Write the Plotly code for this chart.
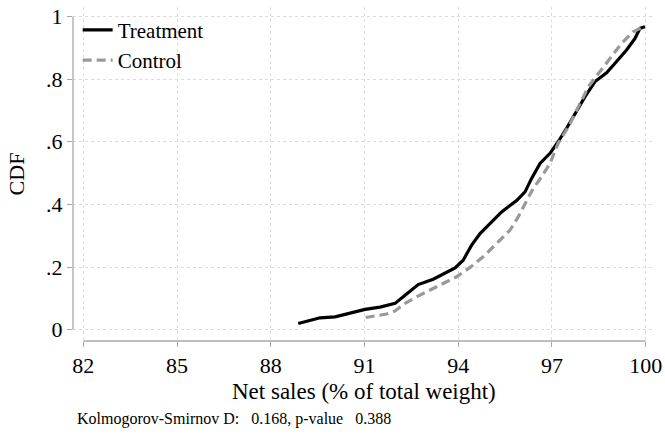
import plotly.graph_objects as go

# CDF of net sales
treat_x = [88.88, 89.58, 90.06, 90.54, 91.02, 91.50, 91.98, 92.30, 92.72, 93.20,
           93.58, 93.90, 94.16, 94.43, 94.70, 95.02, 95.39, 95.87, 96.14, 96.35,
           96.62, 96.94, 97.20, 97.47, 97.74, 98.06, 98.38, 98.75, 99.07, 99.39,
           99.66, 99.82, 99.98]
treat_y = [0.020, 0.038, 0.041, 0.054, 0.065, 0.072, 0.084, 0.110, 0.144, 0.161,
           0.180, 0.197, 0.222, 0.270, 0.307, 0.339, 0.376, 0.412, 0.440, 0.483,
           0.531, 0.563, 0.600, 0.643, 0.691, 0.744, 0.792, 0.820, 0.856, 0.893,
           0.930, 0.962, 0.967]

ctrl_x = [91.04, 91.71, 91.98, 92.30, 92.67, 93.09, 93.52, 93.95, 94.38, 94.80,
          95.23, 95.66, 95.92, 96.19, 96.40, 96.67, 96.94, 97.20, 97.53, 97.85,
          98.17, 98.54, 98.86, 99.23, 99.60, 99.93]
ctrl_y = [0.039, 0.050, 0.060, 0.084, 0.105, 0.126, 0.145, 0.169, 0.199, 0.233,
          0.275, 0.318, 0.360, 0.414, 0.451, 0.488, 0.531, 0.595, 0.648, 0.712,
          0.776, 0.824, 0.866, 0.914, 0.951, 0.967]

x_ticks = [82, 85, 88, 91, 94, 97, 100]
y_ticks = [0, 0.2, 0.4, 0.6, 0.8, 1]
y_tick_labels = ["0", ".2", ".4", ".6", ".8", "1"]

x_title = "Net sales (% of total weight)"
ks_note = "Kolmogorov-Smirnov D:\u00a0\u00a0\u00a00.168, p-value\u00a0\u00a0\u00a00.388"

SERIF = "Liberation Serif"
AXIS_GRAY = "#a8a8a8"
GRID_GRAY = "#dcdcdc"

fig = go.Figure()

fig.add_trace(go.Scatter(
    x=treat_x, y=treat_y, mode="lines", name="Treatment",
    line=dict(color="black", width=3.2),
))
fig.add_trace(go.Scatter(
    x=ctrl_x, y=ctrl_y, mode="lines", name="Control",
    line=dict(color="#999999", width=3.2, dash="9px,5px"),
))

# Stata-style axis lines that only span the tick range
fig.add_shape(type="line", xref="x", yref="paper", x0=82, x1=100, y0=0, y1=0,
              line=dict(color=AXIS_GRAY, width=1.3))
fig.add_shape(type="line", xref="paper", yref="y", x0=0, x1=0, y0=0, y1=1,
              line=dict(color=AXIS_GRAY, width=1.3))

# x title and the KS note placed as annotations for exact positioning
fig.add_annotation(
    text=x_title, xref="paper", yref="paper", x=0.5, y=-0.150,
    xanchor="center", yanchor="middle", showarrow=False,
    font=dict(family=SERIF, size=23, color="black"),
)
fig.add_annotation(
    text=ks_note, xref="paper", yref="paper", x=0.003, y=-0.234,
    xanchor="left", yanchor="middle", showarrow=False,
    font=dict(family=SERIF, size=16, color="black"),
)

fig.update_layout(
    width=665, height=435,
    margin=dict(l=73, r=10, t=7, b=94, autoexpand=False),
    plot_bgcolor="white", paper_bgcolor="white",
    font=dict(family=SERIF, size=22, color="black"),
    showlegend=True,
    legend=dict(x=0.008, y=0.992, xanchor="left", yanchor="top",
                bgcolor="rgba(0,0,0,0)", font=dict(family=SERIF, size=21)),
)

fig.update_xaxes(
    range=[81.67, 100.30], tickmode="array", tickvals=x_ticks,
    ticks="outside", ticklen=5, tickcolor=AXIS_GRAY, showline=False,
    showgrid=True, gridcolor=GRID_GRAY, griddash="dot", gridwidth=1,
    zeroline=False, automargin=False, tickfont=dict(family=SERIF, size=22),
)
fig.update_yaxes(
    range=[-0.036, 1.030], tickmode="array", tickvals=y_ticks, ticktext=y_tick_labels,
    ticks="outside", ticklen=5, tickcolor=AXIS_GRAY, showline=False,
    showgrid=True, gridcolor=GRID_GRAY, griddash="dot", gridwidth=1,
    zeroline=False, automargin=False, tickfont=dict(family=SERIF, size=22),
    title=dict(text="CDF", standoff=15, font=dict(family=SERIF, size=22)),
)

# drop the default page margin so the figure sits at the window corner
fig.write_html("out.html", config={"displayModeBar": False},
               post_script="document.body.style.margin = '0';")
